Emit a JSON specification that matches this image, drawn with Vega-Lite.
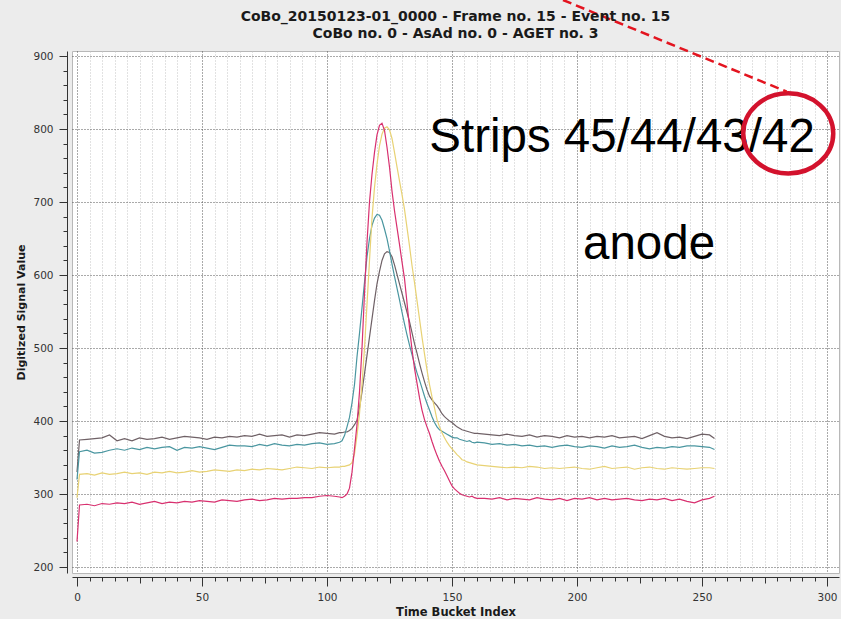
{
  "$schema": "https://vega.github.io/schema/vega-lite/v6.json",
  "width": 767,
  "height": 522,
  "autosize": {"type": "none"},
  "padding": {"left": 72, "top": 51, "right": 2, "bottom": 46},
  "background": "#ececec",
  "title": {
    "text": ["CoBo_20150123-01_0000 - Frame no. 15 - Event no. 15", "CoBo no. 0 - AsAd no. 0 - AGET no. 3"],
    "font": "DejaVu Sans",
    "fontSize": 14,
    "fontWeight": "bold",
    "color": "#1a1a1a",
    "anchor": "middle",
    "frame": "group",
    "offset": -42,
    "lineHeight": 16.6
  },
  "config": {
    "view": {"fill": "white", "stroke": "#b8b8b8", "strokeWidth": 1}
  },
  "datasets": {
    "sig": [
      {"t":0,"g":330,"c":320,"y":295,"p":235},
      {"t":1,"g":374,"c":358,"y":327,"p":285},
      {"t":4,"g":375,"c":360,"y":328,"p":286},
      {"t":7,"g":376,"c":356,"y":326,"p":284},
      {"t":10,"g":377,"c":357,"y":329,"p":287},
      {"t":13,"g":381,"c":360,"y":327,"p":286},
      {"t":16,"g":373,"c":362,"y":328,"p":288},
      {"t":19,"g":376,"c":360,"y":330,"p":287},
      {"t":22,"g":373,"c":363,"y":328,"p":289},
      {"t":25,"g":377,"c":361,"y":329,"p":286},
      {"t":28,"g":375,"c":364,"y":327,"p":288},
      {"t":31,"g":376,"c":362,"y":330,"p":290},
      {"t":34,"g":378,"c":364,"y":329,"p":287},
      {"t":37,"g":375,"c":365,"y":331,"p":289},
      {"t":40,"g":377,"c":360,"y":329,"p":288},
      {"t":43,"g":379,"c":364,"y":330,"p":290},
      {"t":46,"g":378,"c":363,"y":332,"p":289},
      {"t":49,"g":377,"c":365,"y":330,"p":291},
      {"t":52,"g":375,"c":363,"y":331,"p":290},
      {"t":55,"g":378,"c":361,"y":333,"p":289},
      {"t":58,"g":377,"c":364,"y":332,"p":292},
      {"t":61,"g":379,"c":367,"y":331,"p":291},
      {"t":64,"g":378,"c":366,"y":333,"p":290},
      {"t":67,"g":380,"c":366,"y":332,"p":292},
      {"t":70,"g":379,"c":365,"y":334,"p":293},
      {"t":73,"g":382,"c":368,"y":333,"p":291},
      {"t":76,"g":379,"c":366,"y":335,"p":292},
      {"t":79,"g":380,"c":369,"y":334,"p":294},
      {"t":82,"g":381,"c":367,"y":333,"p":293},
      {"t":85,"g":378,"c":366,"y":335,"p":294},
      {"t":88,"g":381,"c":368,"y":337,"p":294},
      {"t":91,"g":380,"c":367,"y":336,"p":295},
      {"t":94,"g":382,"c":369,"y":335,"p":295},
      {"t":97,"g":384,"c":370,"y":337,"p":297},
      {"t":100,"g":383,"c":368,"y":336,"p":298},
      {"t":103,"g":382,"c":369,"y":337,"p":297},
      {"t":105,"g":384,"c":371,"y":337,"p":296},
      {"t":106,"g":384,"c":373,"y":338,"p":295},
      {"t":107,"g":385,"c":380,"y":338,"p":297},
      {"t":108,"g":385,"c":392,"y":339,"p":300},
      {"t":109,"g":387,"c":405,"y":340,"p":308},
      {"t":110,"g":390,"c":425,"y":343,"p":330},
      {"t":111,"g":395,"c":450,"y":355,"p":362},
      {"t":112,"g":401,"c":488,"y":380,"p":395},
      {"t":113,"g":418,"c":520,"y":410,"p":440},
      {"t":114,"g":440,"c":555,"y":450,"p":500},
      {"t":115,"g":465,"c":590,"y":500,"p":575},
      {"t":116,"g":490,"c":625,"y":560,"p":645},
      {"t":117,"g":515,"c":650,"y":620,"p":700},
      {"t":118,"g":540,"c":668,"y":678,"p":738},
      {"t":119,"g":565,"c":678,"y":720,"p":768},
      {"t":120,"g":588,"c":683,"y":752,"p":792},
      {"t":121,"g":605,"c":682,"y":777,"p":805},
      {"t":122,"g":620,"c":675,"y":793,"p":808},
      {"t":123,"g":629,"c":663,"y":801,"p":798},
      {"t":124,"g":632,"c":650,"y":803,"p":775},
      {"t":125,"g":631,"c":633,"y":799,"p":748},
      {"t":126,"g":625,"c":615,"y":787,"p":715},
      {"t":127,"g":614,"c":598,"y":768,"p":688},
      {"t":128,"g":601,"c":582,"y":748,"p":665},
      {"t":129,"g":588,"c":566,"y":729,"p":642},
      {"t":130,"g":575,"c":549,"y":710,"p":618},
      {"t":131,"g":562,"c":533,"y":690,"p":595},
      {"t":132,"g":549,"c":518,"y":665,"p":562},
      {"t":133,"g":536,"c":504,"y":640,"p":528},
      {"t":134,"g":521,"c":491,"y":613,"p":498},
      {"t":135,"g":506,"c":478,"y":590,"p":472},
      {"t":136,"g":493,"c":466,"y":565,"p":452},
      {"t":137,"g":479,"c":456,"y":540,"p":432},
      {"t":138,"g":466,"c":445,"y":515,"p":415},
      {"t":139,"g":454,"c":434,"y":492,"p":402},
      {"t":140,"g":443,"c":424,"y":470,"p":392},
      {"t":141,"g":434,"c":415,"y":450,"p":383},
      {"t":142,"g":429,"c":406,"y":433,"p":372},
      {"t":143,"g":425,"c":398,"y":418,"p":362},
      {"t":144,"g":421,"c":392,"y":402,"p":353},
      {"t":145,"g":416,"c":388,"y":392,"p":345},
      {"t":146,"g":410,"c":386,"y":384,"p":338},
      {"t":147,"g":406,"c":384,"y":377,"p":332},
      {"t":148,"g":403,"c":382,"y":371,"p":325},
      {"t":149,"g":400,"c":380,"y":366,"p":318},
      {"t":150,"g":398,"c":378,"y":362,"p":311},
      {"t":151,"g":395,"c":377,"y":358,"p":307},
      {"t":152,"g":392,"c":377,"y":354,"p":304},
      {"t":153,"g":390,"c":375,"y":351,"p":301},
      {"t":154,"g":388,"c":374,"y":347,"p":299},
      {"t":155,"g":387,"c":373,"y":346,"p":298},
      {"t":156,"g":386,"c":372,"y":344,"p":297},
      {"t":157,"g":385,"c":373,"y":343,"p":296},
      {"t":158,"g":384,"c":371,"y":342,"p":297},
      {"t":159,"g":383,"c":370,"y":341,"p":295},
      {"t":160,"g":383,"c":371,"y":340,"p":294},
      {"t":163,"g":382,"c":370,"y":339,"p":294},
      {"t":166,"g":381,"c":368,"y":338,"p":293},
      {"t":169,"g":380,"c":369,"y":337,"p":295},
      {"t":172,"g":382,"c":367,"y":336,"p":292},
      {"t":175,"g":380,"c":368,"y":337,"p":294},
      {"t":178,"g":379,"c":366,"y":336,"p":293},
      {"t":181,"g":381,"c":367,"y":338,"p":292},
      {"t":184,"g":378,"c":365,"y":337,"p":295},
      {"t":187,"g":380,"c":366,"y":335,"p":293},
      {"t":190,"g":379,"c":364,"y":336,"p":292},
      {"t":193,"g":377,"c":366,"y":335,"p":294},
      {"t":196,"g":380,"c":367,"y":336,"p":291},
      {"t":199,"g":378,"c":365,"y":337,"p":294},
      {"t":202,"g":379,"c":364,"y":335,"p":293},
      {"t":205,"g":377,"c":366,"y":334,"p":295},
      {"t":208,"g":379,"c":365,"y":336,"p":292},
      {"t":211,"g":378,"c":363,"y":338,"p":294},
      {"t":214,"g":380,"c":366,"y":335,"p":292},
      {"t":217,"g":377,"c":364,"y":336,"p":293},
      {"t":220,"g":378,"c":365,"y":337,"p":294},
      {"t":223,"g":379,"c":367,"y":334,"p":292},
      {"t":226,"g":376,"c":364,"y":336,"p":291},
      {"t":229,"g":380,"c":362,"y":337,"p":293},
      {"t":232,"g":384,"c":364,"y":335,"p":292},
      {"t":235,"g":379,"c":363,"y":334,"p":294},
      {"t":238,"g":377,"c":365,"y":336,"p":291},
      {"t":241,"g":378,"c":364,"y":335,"p":293},
      {"t":244,"g":376,"c":366,"y":334,"p":290},
      {"t":247,"g":379,"c":366,"y":335,"p":288},
      {"t":250,"g":382,"c":365,"y":336,"p":292},
      {"t":253,"g":381,"c":364,"y":336,"p":294},
      {"t":255,"g":376,"c":361,"y":335,"p":297}
    ],
    "labels": [
      {"t":140.9,"v":768.9,"label":"Strips 45/44/43/42"},
      {"t":202.4,"v":622,"label":"anode"}
    ],
    "circle": [{"t":284.5,"v":794}],
    "arrow": [{"t":194.4,"v":976.7,"t2":283.9,"v2":851.1}]
  },
  "layer": [
    {
      "data": {"name": "sig"},
      "transform": [{"fold": ["g","c","y","p"], "as": ["s","v"]}],
      "mark": {"type": "line", "strokeWidth": 1.2},
      "encoding": {
        "x": {
          "field": "t", "type": "quantitative",
          "scale": {"domain": [-2, 304.8], "nice": false, "zero": false},
          "axis": {
            "title": "Time Bucket Index",
            "values": [0,5,10,15,20,25,30,35,40,45,50,55,60,65,70,75,80,85,90,95,100,105,110,115,120,125,130,135,140,145,150,155,160,165,170,175,180,185,190,195,200,205,210,215,220,225,230,235,240,245,250,255,260,265,270,275,280,285,290,295,300],
            "tickCount": 1000,
            "format": "d",
            "labelExpr": "datum.value % 50 === 0 ? datum.label : ''",
            "offset": 4,
            "grid": true,
            "gridDash": [1, 2],
            "gridColor": {"condition": {"test": "datum.value % 50 === 0", "value": "#555555"}, "value": "#c4c4c4"},
            "tickSize": {"condition": [{"test": "datum.value % 50 === 0", "value": 9}, {"test": "datum.value % 25 === 0", "value": 6}], "value": 4},
            "tickColor": "#333333",
            "domainColor": "#333333",
            "labelFont": "DejaVu Sans",
            "labelFontSize": 10.5,
            "labelColor": "#333333",
            "labelPadding": 6,
            "labelFlush": false,
            "labelOverlap": false,
            "titleFont": "DejaVu Sans",
            "titleFontSize": 11.5,
            "titleFontWeight": "bold",
            "titleColor": "#1a1a1a",
            "titlePadding": 4
          }
        },
        "y": {
          "field": "v", "type": "quantitative",
          "scale": {"domain": [191.85, 906.85], "nice": false, "zero": false},
          "axis": {
            "title": "Digitized Signal Value",
            "values": [200,220,240,260,280,300,320,340,360,380,400,420,440,460,480,500,520,540,560,580,600,620,640,660,680,700,720,740,760,780,800,820,840,860,880,900],
            "tickCount": 1000,
            "format": "d",
            "labelExpr": "datum.value % 100 === 0 ? datum.label : ''",
            "offset": 5,
            "grid": true,
            "gridDash": [1, 2],
            "gridColor": "#555555",
            "gridOpacity": {"condition": {"test": "datum.value % 100 === 0", "value": 1}, "value": 0},
            "tickSize": {"condition": {"test": "datum.value % 100 === 0", "value": 8}, "value": 4},
            "tickColor": "#333333",
            "domainColor": "#333333",
            "labelFont": "DejaVu Sans",
            "labelFontSize": 10.5,
            "labelColor": "#333333",
            "labelPadding": 6,
            "labelFlush": false,
            "labelOverlap": false,
            "titleFont": "DejaVu Sans",
            "titleFontSize": 11,
            "titleFontWeight": "bold",
            "titleColor": "#1a1a1a",
            "titlePadding": 6
          }
        },
        "color": {
          "field": "s", "type": "nominal",
          "scale": {"domain": ["g","c","y","p"], "range": ["#6f6166","#4a96a0","#e8d274","#d8306f"]},
          "legend": null
        }
      }
    },
    {
      "mark": {"type": "rule", "color": "#2fe82f", "strokeWidth": 1.5, "strokeDash": [3, 2]},
      "encoding": {"x": {"datum": 0, "type": "quantitative"}}
    },
    {
      "data": {"name": "labels"},
      "mark": {"type": "text", "font": "Liberation Sans", "fontSize": 47.5, "align": "left", "baseline": "alphabetic", "color": "#000000"},
      "encoding": {
        "x": {"field": "t", "type": "quantitative"},
        "y": {"field": "v", "type": "quantitative"},
        "text": {"field": "label"}
      }
    },
    {
      "data": {"name": "circle"},
      "mark": {"type": "point", "shape": "M-1,0A1,0.89,0,1,0,1,0A1,0.89,0,1,0,-1,0Z", "size": 8100, "filled": false, "stroke": "#d3122d", "strokeWidth": 4.5, "opacity": 1},
      "encoding": {
        "x": {"field": "t", "type": "quantitative"},
        "y": {"field": "v", "type": "quantitative"}
      }
    },
    {
      "data": {"name": "arrow"},
      "mark": {"type": "rule", "color": "#e3141f", "strokeWidth": 2.5, "strokeDash": [9, 5]},
      "encoding": {
        "x": {"field": "t", "type": "quantitative"},
        "y": {"field": "v", "type": "quantitative"},
        "x2": {"field": "t2"},
        "y2": {"field": "v2"}
      }
    }
  ]
}
